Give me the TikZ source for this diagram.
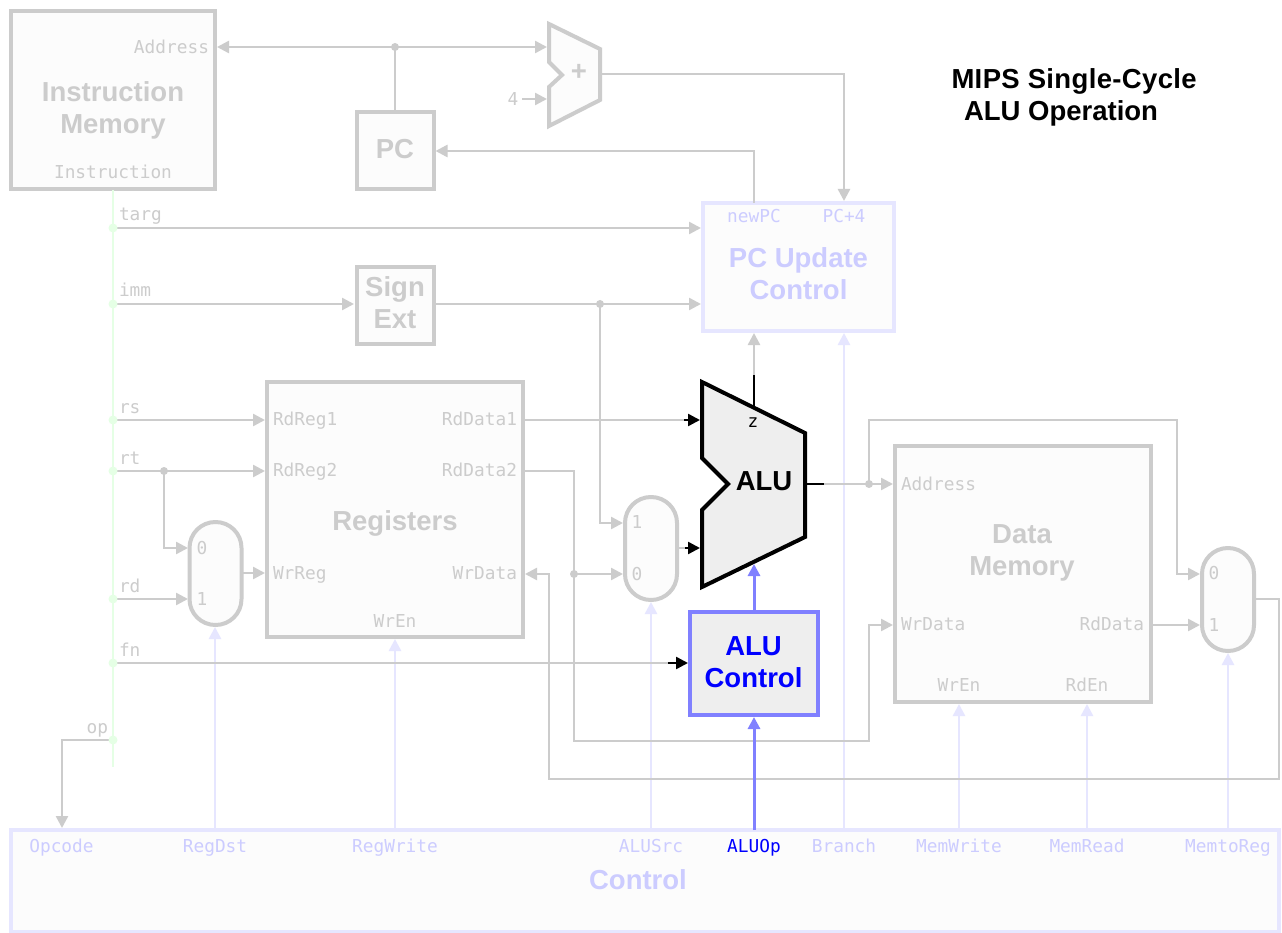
\documentclass[tikz,border=0pt]{standalone}
\usepackage{fontspec}
\setmainfont{Liberation Sans}
\newfontfamily\monof{DejaVu Sans Mono}
\usetikzlibrary{arrows.meta}
\definecolor{wire}{HTML}{CCCCCC}
\definecolor{ctl}{HTML}{E6E6FF}
\definecolor{ctltxt}{HTML}{CCCCFF}
\definecolor{act}{HTML}{8080FF}
\definecolor{grn}{HTML}{E5FFE5}
\definecolor{pale}{HTML}{FCFCFC}
\definecolor{alufill}{HTML}{EEEEEE}
\tikzset{
  x=1pt,y=-1pt,
  tip/.style={-{Triangle[length=12pt,width=12pt]}},
  wirel/.style={draw=wire,line width=2.5pt},
  ctll/.style={draw=ctl,line width=2.5pt},
  actl/.style={draw=act,line width=3pt},
  blkl/.style={draw=black,line width=2.5pt},
  box/.style={draw=wire,fill=pale,line width=4pt,inner sep=0pt,outer sep=0pt,align=center,font=\fontsize{27.5}{32}\selectfont\bfseries,text=wire},
  ctlbox/.style={box,draw=ctl,text=ctltxt},
  actbox/.style={box,draw=act,fill=alufill,text=blue},
  muxbox/.style={draw=wire,fill=pale,line width=4pt,inner sep=0pt,outer sep=0pt,minimum width=52pt,minimum height=103pt,rounded corners=25.9pt},
  shapeg/.style={draw=wire,fill=pale,line width=4pt,miter limit=10},
  mono/.style={inner sep=0pt,outer sep=0pt,font=\fontsize{17.8}{20}\monof,text height=13pt,text depth=4pt,text=wire},
  cmono/.style={mono,text=ctltxt},
  dotg/.style={circle,fill=wire,inner sep=0pt,outer sep=0pt,minimum size=8pt},
  dotv/.style={circle,fill=grn,inner sep=0pt,outer sep=0pt,minimum size=9pt},
  bold/.style={inner sep=0pt,outer sep=0pt,align=center,font=\fontsize{27.5}{32}\selectfont\bfseries},
}
\begin{document}
\begin{tikzpicture}
\useasboundingbox[fill=white] (0,0) rectangle (1282,933);
% control nodes and blocks
\node[ctlbox,minimum width=1268pt,minimum height=102pt] (control) at (645,881) {};
\coordinate (cRegDst) at (215,830);
\coordinate (cRegWrite) at (395,830);
\coordinate (cALUSrc) at (651,830);
\coordinate (cALUOp) at (754,830);
\coordinate (cBranch) at (844,830);
\coordinate (cMemWrite) at (959,830);
\coordinate (cMemRead) at (1087,830);
\coordinate (cMemtoReg) at (1228,830);
\coordinate (cOpcode) at (62,828);
\coordinate (tRegDst) at (215,627);
\coordinate (tRegWrite) at (395,639);
\coordinate (tALUSrc) at (651,602);
\coordinate (tBranch) at (844,333);
\coordinate (tMemWrite) at (959,704);
\coordinate (tMemRead) at (1087,704);
\coordinate (tMemtoReg) at (1228,653);
% control lines (beneath the data wires)
\draw[ctll,tip] (cRegDst) -- (tRegDst);
\draw[ctll,tip] (cRegWrite) -- (tRegWrite);
\draw[ctll,tip] (cALUSrc) -- (tALUSrc);
\draw[ctll,tip] (cBranch) -- (tBranch);
\draw[ctll,tip] (cMemWrite) -- (tMemWrite);
\draw[ctll,tip] (cMemRead) -- (tMemRead);
\draw[ctll,tip] (cMemtoReg) -- (tMemtoReg);
% blocks
\node[box,minimum width=204pt,minimum height=178pt] (imem) at (113,100) {};
\node[box,minimum width=77pt,minimum height=77pt] (pc) at (395,150.5) {};
\node[box,minimum width=77pt,minimum height=77pt] (sign) at (395,305.5) {};
\node[ctlbox,minimum width=191pt,minimum height=128pt] (pcu) at (798.5,267) {};
\node[box,minimum width=256pt,minimum height=255pt] (regs) at (395,509.5) {};
\node[box,minimum width=256pt,minimum height=256pt] (dmem) at (1023,574) {};
\node[actbox,minimum width=128pt,minimum height=103pt] (aluc) at (754,663.5) {};
\node[muxbox] (muxa) at (215.5,573.5) {};
\node[muxbox] (muxb) at (651,548.5) {};
\node[muxbox] (muxc) at (1228,599.5) {};
\draw[shapeg] (549,24) -- (600,49) -- (600,100) -- (549,126) -- (549,87) -- (562,75) -- (549,62) -- cycle;
% ports
\coordinate (addrL) at (217,47);
\coordinate (addIn1) at (547,47);
\coordinate (addIn2) at (547,99);
\coordinate (fourEnd) at (522,99);
\coordinate (addOut) at (600,74);
\coordinate (cornerAdd) at (844,74);
\coordinate (pcuPC4) at (844,201);
\coordinate (pcuNew) at (754,203);
\coordinate (cornerNew) at (754,151);
\coordinate (pcIn) at (435.5,151);
\coordinate (busTarg) at (113,228);
\coordinate (busImm) at (113,304);
\coordinate (busRs) at (113,420);
\coordinate (busRt) at (113,471);
\coordinate (busRd) at (113,599);
\coordinate (busFn) at (113,663);
\coordinate (busOp) at (113,740);
\coordinate (busTop) at (113,190);
\coordinate (busEnd) at (113,767);
\coordinate (pcuTarg) at (701,228);
\coordinate (pcuImm) at (701,304);
\coordinate (signIn) at (354,304);
\coordinate (signOut) at (433,304);
\coordinate (jImm) at (600,304);
\coordinate (cImm) at (600,523);
\coordinate (muxb1) at (623,523);
\coordinate (muxb0) at (623,574);
\coordinate (regRs) at (265,420);
\coordinate (regRt) at (265,471);
\coordinate (jRt) at (164,471);
\coordinate (cRt) at (164,548);
\coordinate (muxa0) at (188,548);
\coordinate (muxa1) at (188,599);
\coordinate (muxaOut) at (241,573);
\coordinate (regWr) at (265,573);
\coordinate (regD1) at (523,420);
\coordinate (regD2) at (523,471);
\coordinate (regWd) at (525,574);
\coordinate (aluA) at (700,420);
\coordinate (aluAs) at (684,420);
\coordinate (aluB) at (700,548);
\coordinate (aluBs) at (685,548);
\coordinate (muxbOut) at (677,548);
\coordinate (c2a) at (574,471);
\coordinate (jD2) at (574,574);
\coordinate (c2b) at (574,741);
\coordinate (c2c) at (869,741);
\coordinate (c2d) at (869,625);
\coordinate (memWd) at (893,625);
\coordinate (aluOut) at (806,484);
\coordinate (aluOuts) at (824,484);
\coordinate (jAlu) at (869,484);
\coordinate (memAddr) at (893,484);
\coordinate (c3a) at (869,420);
\coordinate (c3b) at (1177,420);
\coordinate (c3c) at (1177,574);
\coordinate (muxc0) at (1200,574);
\coordinate (muxc1) at (1200,625);
\coordinate (memRd) at (1151,625);
\coordinate (muxcOut) at (1254,599);
\coordinate (c4a) at (1279,599);
\coordinate (c4b) at (1279,779);
\coordinate (c4c) at (549,779);
\coordinate (c4d) at (549,574);
\coordinate (zTop) at (754,375);
\coordinate (zBot) at (754,407);
\coordinate (pcuZ) at (754,333);
\coordinate (fnEnd) at (688,663);
\coordinate (fnStub) at (668,663);
\coordinate (cOp) at (62,740);
\coordinate (jAddr) at (395,47);
% data wires
\draw[wirel,{Triangle[length=12pt,width=12pt]}-{Triangle[length=12pt,width=12pt]}] (addrL) -- (addIn1);
\draw[wirel] (pc.north) -- (jAddr);
\draw[wirel,tip] (fourEnd) -- (addIn2);
\draw[wirel,tip] (addOut) -- (cornerAdd) -- (pcuPC4);
\draw[wirel,tip] (pcuNew) -- (cornerNew) -- (pcIn);
\draw[wirel,tip] (busTarg) -- (pcuTarg);
\draw[wirel,tip] (busImm) -- (signIn);
\draw[wirel,tip] (signOut) -- (pcuImm);
\draw[wirel,tip] (jImm) -- (cImm) -- (muxb1);
\draw[wirel,tip] (busRs) -- (regRs);
\draw[wirel,tip] (busRt) -- (regRt);
\draw[wirel,tip] (jRt) -- (cRt) -- (muxa0);
\draw[wirel,tip] (busRd) -- (muxa1);
\draw[wirel,tip] (muxaOut) -- (regWr);
\draw[wirel] (busFn) -- (fnStub);
\draw[wirel] (regD1) -- (aluAs);
\draw[wirel] (muxbOut) -- (aluBs);
\draw[wirel,tip] (regD2) -- (c2a) -- (c2b) -- (c2c) -- (c2d) -- (memWd);
\draw[wirel,tip] (jD2) -- (muxb0);
\draw[wirel,tip] (aluOuts) -- (memAddr);
\draw[wirel,tip] (jAlu) -- (c3a) -- (c3b) -- (c3c) -- (muxc0);
\draw[wirel,tip] (memRd) -- (muxc1);
\draw[wirel,tip] (muxcOut) -- (c4a) -- (c4b) -- (c4c) -- (c4d) -- (regWd);
\draw[wirel,tip] (zTop) -- (pcuZ);
\draw[wirel,tip] (busOp) -- (cOp) -- (cOpcode);
\node[dotg] (d1) at (jAddr) {};
\node[dotg] (d2) at (jImm) {};
\node[dotg] (d3) at (jRt) {};
\node[dotg] (d4) at (jD2) {};
\node[dotg] (d5) at (jAlu) {};
% instruction bus
\draw[draw=grn,line width=2.5pt] (busTop) -- (busEnd);
\foreach \n/\p in {t/busTarg,i/busImm,s/busRs,r/busRt,d/busRd,f/busFn,o/busOp}
  \node[dotv] (bus\n) at (\p) {};
% active path
\coordinate (alucBot) at (754,717);
\coordinate (aluBot) at (754,564);
\draw[actl,tip] (cALUOp) -- (alucBot);
\draw[actl,tip] (aluc.north) -- (aluBot);
\draw[draw=black,fill=alufill,line width=4pt,miter limit=10] (702,382) -- (805,433) -- (805,537) -- (702,587) -- (702,510) -- (728,484) -- (702,458) -- cycle;
\draw[blkl,tip] (aluAs) -- (aluA);
\draw[blkl,tip] (aluBs) -- (aluB);
\draw[blkl,tip] (fnStub) -- (fnEnd);
\draw[blkl] (aluOut) -- (aluOuts);
\draw[blkl] (zTop) -- (zBot);
% labels
\node[mono,anchor=east] (lAddr) at (209,49) {Address};
\node[bold,text=wire] (lIM) at (113,110) {Instruction\\Memory};
\node[mono] (lInstr) at (113,174) {Instruction};
\node[bold,text=wire] (lPC) at (395,149) {PC};
\node[bold,text=wire] (lSign) at (395,303) {Sign\\Ext};
\node[mono] (l4) at (513,101) {4};
\node[bold,text=wire] (lPlus) at (579,72) {+};
\node[cmono] (lNew) at (754,218) {newPC};
\node[cmono] (lPC4) at (844,218) {PC+4};
\node[bold,text=ctltxt] (lPCU) at (798.5,274) {PC Update\\Control};
\node[mono,anchor=west] (ltarg) at (119,216) {targ};
\node[mono,anchor=west] (limm) at (119,292) {imm};
\node[mono,anchor=west] (lrs) at (119,409) {rs};
\node[mono,anchor=west] (lrt) at (119,460) {rt};
\node[mono,anchor=west] (lrd) at (119,588) {rd};
\node[mono,anchor=west] (lfn) at (119,652) {fn};
\node[mono,anchor=east] (lop) at (108,729) {op};
\node[mono,anchor=west] (lRR1) at (273,421) {RdReg1};
\node[mono,anchor=west] (lRR2) at (273,472) {RdReg2};
\node[mono,anchor=west] (lWR) at (273,575) {WrReg};
\node[mono,anchor=east] (lRD1) at (517,421) {RdData1};
\node[mono,anchor=east] (lRD2) at (517,472) {RdData2};
\node[mono,anchor=east] (lWD) at (517,575) {WrData};
\node[mono] (lWE) at (395,623) {WrEn};
\node[bold,text=wire] (lRegs) at (395,523) {Registers};
\node[mono] (m1) at (202,550) {0};
\node[mono] (m2) at (202,601) {1};
\node[mono] (m3) at (637,524) {1};
\node[mono] (m4) at (637,576) {0};
\node[mono] (m5) at (1214,575) {0};
\node[mono] (m6) at (1214,627) {1};
\node[bold,text=wire] (lDM) at (1022,553) {Data\\Memory};
\node[mono,anchor=west] (lMA) at (901,486) {Address};
\node[mono,anchor=west] (lMW) at (901,626) {WrData};
\node[mono,anchor=east] (lMR) at (1144,626) {RdData};
\node[mono] (lME) at (959,687) {WrEn};
\node[mono] (lMRE) at (1087,687) {RdEn};
\node[bold,text=blue] (lAC) at (753.5,662) {ALU\\Control};
\node[bold,text=black] (lALU) at (764,481) {ALU};
\node[mono,text=black] (lz) at (753,423) {z};
\node[bold,anchor=base west,text=black] (t1) at (951.5,89) {\addfontfeature{LetterSpace=1.3}MIPS Single-Cycle};
\node[bold,anchor=base west,text=black] (t2) at (964,121) {ALU Operation};
\node[cmono] (c1) at (61.5,848) {Opcode};
\node[cmono] (c2) at (215,848) {RegDst};
\node[cmono] (c3) at (395,848) {RegWrite};
\node[cmono] (c4) at (651,848) {ALUSrc};
\node[mono,text=blue] (c5) at (754,848) {ALUOp};
\node[cmono] (c6) at (844,848) {Branch};
\node[cmono] (c7) at (959,848) {MemWrite};
\node[cmono] (c8) at (1087,848) {MemRead};
\node[cmono] (c9) at (1228,848) {MemtoReg};
\node[bold,text=ctltxt] (lCtl) at (638,880) {Control};
\end{tikzpicture}
\end{document}
